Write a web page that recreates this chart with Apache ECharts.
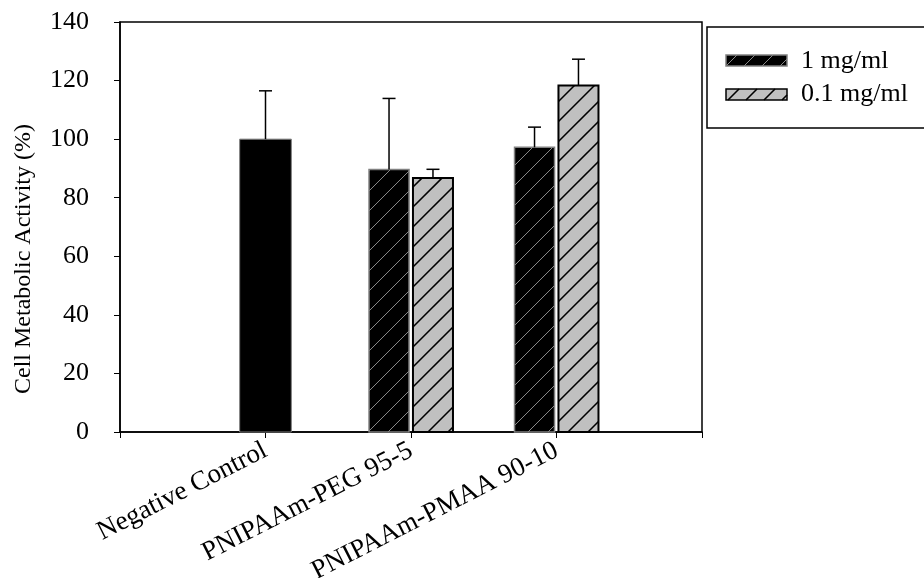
<!DOCTYPE html>
<html>
<head>
<meta charset="utf-8">
<script src="https://cdn.jsdelivr.net/npm/echarts@6/dist/echarts.min.js"></script>
<style>
html,body{margin:0;padding:0;background:#fff;}
#chart{width:924px;height:578px;}
</style>
</head>
<body>
<div id="chart"></div>
<script>
// ---- data ----
const categories = ['Negative Control', 'PNIPAAm-PEG 95-5', 'PNIPAAm-PMAA 90-10'];
const seriesNames = ['1 mg/ml', '0.1 mg/ml'];
const controlMean = [100.0, null, null];
const controlSD   = [16.5, null, null];
const mean1mg  = [null, 89.6, 97.2];
const sd1mg    = [null, 24.3, 6.9];
const mean01mg = [null, 86.7, 118.3];
const sd01mg   = [null, 3.0, 9.0];
const yMin = 0, yMax = 140, yStep = 20;

const FONT = '"Liberation Serif", "Times New Roman", serif';

function toData(means, sds) {
  const out = [];
  means.forEach(function (m, i) {
    if (m !== null) out.push([i + 1, m, sds[i]]);
  });
  return out;
}

function hatchLines(x0, y0, w, h, spacing, color, lw) {
  const lines = [];
  const cStart = Math.ceil((x0 + y0) / spacing) * spacing;
  for (let c = cStart; c <= x0 + w + y0 + h; c += spacing) {
    const xa = Math.max(x0, c - (y0 + h));
    const xb = Math.min(x0 + w, c - y0);
    if (xb - xa > 0.5) {
      lines.push({
        type: 'line',
        shape: { x1: xa, y1: c - xa, x2: xb, y2: c - xb },
        style: { stroke: color, lineWidth: lw },
        silent: true
      });
    }
  }
  return lines;
}

const styles = {
  control: { fill: '#000000', stroke: '#7f7f7f', border: 1, hatch: null, hatchW: 0, widthFrac: 0.355, offFrac: 0 },
  one:     { fill: '#000000', stroke: '#808080', border: 1.5, hatch: '#8a8a8a', hatchW: 1, widthFrac: 0.275, offFrac: -0.151 },
  tenth:   { fill: '#c0c0c0', stroke: '#000000', border: 2, hatch: '#000000', hatchW: 1.6, widthFrac: 0.275, offFrac: 0.151 }
};

function makeRender(st) {
  return function (params, api) {
    const xv = api.value(0), yv = api.value(1), e = api.value(2);
    const base = api.coord([xv, 0]);
    const top = api.coord([xv, yv]);
    const errTop = api.coord([xv, yv + e]);
    const unit = api.size([1, 0])[0];
    const w = unit * st.widthFrac;
    const cx = base[0] + unit * st.offFrac;
    const x0 = cx - w / 2, y0 = top[1], h = base[1] - top[1];
    const children = [];
    children.push({ type: 'rect', shape: { x: x0, y: y0, width: w, height: h }, style: { fill: st.fill } });
    if (st.hatch) {
      hatchLines(x0, y0, w, h, 20, st.hatch, st.hatchW).forEach(function (l) { children.push(l); });
    }
    children.push({ type: 'rect', shape: { x: x0, y: y0, width: w, height: h }, style: { fill: 'none', stroke: st.stroke, lineWidth: st.border } });
    // error bar (upper)
    children.push({ type: 'line', shape: { x1: cx, y1: y0, x2: cx, y2: errTop[1] }, style: { stroke: '#000', lineWidth: 1.5 } });
    children.push({ type: 'line', shape: { x1: cx - 6.5, y1: errTop[1], x2: cx + 6.5, y2: errTop[1] }, style: { stroke: '#000', lineWidth: 1.5 } });
    return { type: 'group', children: children };
  };
}

function legendSwatch(x, y, w, h, st) {
  const ch = [{ type: 'rect', shape: { x: x, y: y, width: w, height: h }, style: { fill: st.fill } }];
  hatchLines(x, y, w, h, 18, st.hatch, st.hatchW).forEach(function (l) { ch.push(l); });
  ch.push({ type: 'rect', shape: { x: x, y: y, width: w, height: h }, style: { fill: 'none', stroke: st.stroke, lineWidth: 1.5 } });
  return { type: 'group', children: ch };
}

const chart = echarts.init(document.getElementById('chart'));
chart.setOption({
  animation: false,
  backgroundColor: '#ffffff',
  grid: { left: 120, right: 222, top: 22, bottom: 146, containLabel: false, outerBoundsMode: 'none',
          show: true, borderColor: '#000', borderWidth: 1.5, backgroundColor: 'transparent' },
  xAxis: {
    type: 'value', min: 0, max: categories.length + 1, interval: 1,
    splitLine: { show: false },
    axisLine: { show: true, lineStyle: { color: '#000', width: 1.5 } },
    axisTick: { show: true, inside: false, length: 6, lineStyle: { color: '#000', width: 1 } },
    axisLabel: {
      rotate: 27, margin: 17, color: '#000', fontFamily: FONT, fontSize: 27,
      formatter: function (v) { return categories[v - 1] || ''; }
    }
  },
  yAxis: {
    type: 'value', min: yMin, max: yMax, interval: yStep,
    splitLine: { show: false },
    axisLine: { show: true, lineStyle: { color: '#000', width: 1.5 } },
    axisTick: { show: true, inside: false, length: 6, lineStyle: { color: '#000', width: 1 } },
    axisLabel: { color: '#000', fontFamily: FONT, fontSize: 26, margin: 31 }
  },
  graphic: [
    { type: 'text', x: 24, y: 259, rotation: Math.PI / 2,
      style: { text: 'Cell Metabolic Activity (%)', font: '24px ' + FONT, fill: '#000', textAlign: 'center', textVerticalAlign: 'middle' } },
    { type: 'rect', shape: { x: 707, y: 27, width: 240, height: 101 }, style: { fill: '#fff', stroke: '#000', lineWidth: 1.5 } },
    legendSwatch(726, 55, 61, 11, styles.one),
    legendSwatch(726, 89, 61, 11, styles.tenth),
    { type: 'text', x: 801, y: 61, style: { text: seriesNames[0], font: '26px ' + FONT, fill: '#000', textVerticalAlign: 'middle' } },
    { type: 'text', x: 801, y: 94, style: { text: seriesNames[1], font: '26px ' + FONT, fill: '#000', textVerticalAlign: 'middle' } }
  ],
  series: [
    { name: 'Negative Control', type: 'custom', renderItem: makeRender(styles.control), encode: { x: 0, y: 1 }, data: toData(controlMean, controlSD) },
    { name: seriesNames[0], type: 'custom', renderItem: makeRender(styles.one), encode: { x: 0, y: 1 }, data: toData(mean1mg, sd1mg) },
    { name: seriesNames[1], type: 'custom', renderItem: makeRender(styles.tenth), encode: { x: 0, y: 1 }, data: toData(mean01mg, sd01mg) }
  ]
});
</script>
</body>
</html>
